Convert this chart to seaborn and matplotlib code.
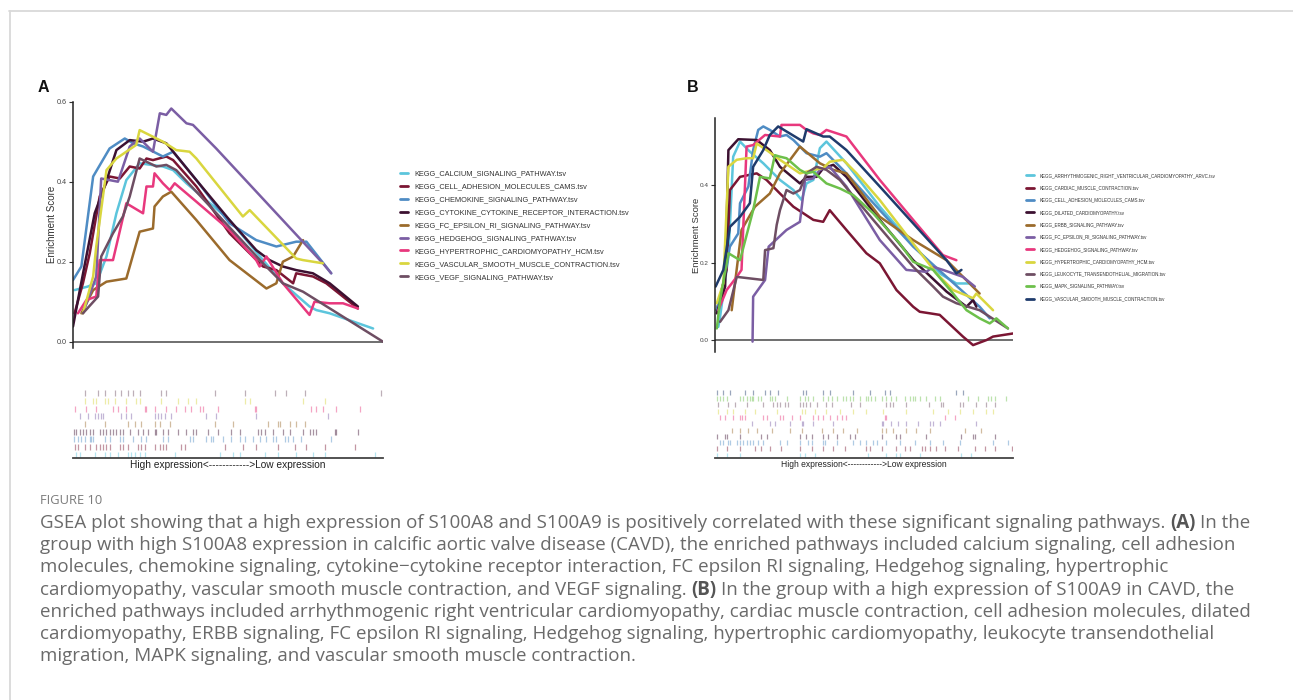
import matplotlib
matplotlib.use("Agg")
import matplotlib.pyplot as plt
from matplotlib.lines import Line2D
import pandas as pd
import seaborn as sns

# ---------------- Panel A data (x = rank position 0-100, y = enrichment score) -------------
A_CALCIUM_X = [0.5, 4.8, 7.5, 10.8, 14.0, 17.2, 21.5, 29.0, 32.3, 36.6, 50.5, 61.3, 67.7, 76.3, 78.5, 82.8, 96.8]
A_CALCIUM_Y = [0.129, 0.138, 0.146, 0.213, 0.321, 0.404, 0.446, 0.438, 0.429, 0.396, 0.304, 0.204, 0.146, 0.088, 0.079, 0.071, 0.033]
A_CELL_X = [0.5, 3.2, 5.4, 8.6, 11.8, 15.1, 18.3, 21.5, 23.7, 25.8, 30.1, 32.3, 39.8, 50.5, 61.3, 65.6, 71.0, 72.0, 77.4, 81.7, 91.9]
A_CELL_Y = [0.071, 0.146, 0.221, 0.363, 0.413, 0.408, 0.438, 0.433, 0.458, 0.454, 0.463, 0.454, 0.388, 0.271, 0.188, 0.179, 0.146, 0.171, 0.163, 0.146, 0.083]
A_CHEMO_X = [0.0, 2.7, 6.5, 11.8, 16.7, 19.4, 22.6, 29.0, 32.3, 39.8, 50.5, 59.1, 65.6, 72.0, 75.3, 83.3]
A_CHEMO_Y = [0.154, 0.188, 0.413, 0.483, 0.508, 0.496, 0.488, 0.463, 0.475, 0.404, 0.296, 0.254, 0.238, 0.250, 0.250, 0.171]
A_CYTO_X = [0.0, 2.2, 4.3, 7.0, 10.2, 14.0, 18.3, 22.6, 25.8, 30.1, 39.8, 50.5, 59.1, 63.4, 67.7, 72.0, 77.4, 82.8, 91.9]
A_CYTO_Y = [0.038, 0.129, 0.213, 0.321, 0.388, 0.479, 0.504, 0.500, 0.508, 0.496, 0.404, 0.304, 0.229, 0.204, 0.188, 0.179, 0.171, 0.146, 0.088]
A_FC_X = [2.7, 6.5, 10.8, 17.2, 21.5, 25.8, 26.3, 29.0, 31.7, 39.8, 50.5, 62.4, 65.6, 67.7, 71.0, 74.2]
A_FC_Y = [0.071, 0.129, 0.150, 0.158, 0.275, 0.283, 0.338, 0.363, 0.375, 0.304, 0.204, 0.133, 0.146, 0.200, 0.213, 0.254]
A_HEDGE_X = [3.2, 7.5, 9.1, 14.5, 18.3, 21.5, 25.8, 28.0, 30.1, 31.7, 36.6, 38.7, 46.2, 80.6, 83.3]
A_HEDGE_Y = [0.071, 0.163, 0.408, 0.400, 0.488, 0.508, 0.475, 0.571, 0.567, 0.583, 0.546, 0.542, 0.483, 0.196, 0.171]
A_HCM_X = [1.6, 4.3, 7.5, 8.6, 12.9, 17.2, 22.6, 23.7, 25.8, 26.3, 29.0, 31.2, 32.8, 39.8, 50.5, 59.1, 60.2, 62.4, 67.7, 76.3, 77.9, 82.8, 87.1, 91.9]
A_HCM_Y = [0.071, 0.104, 0.113, 0.204, 0.204, 0.346, 0.321, 0.388, 0.388, 0.421, 0.396, 0.379, 0.396, 0.350, 0.279, 0.204, 0.188, 0.213, 0.146, 0.067, 0.100, 0.096, 0.096, 0.083]
A_VSMC_X = [3.2, 6.5, 7.5, 10.8, 14.0, 20.4, 21.5, 29.0, 33.3, 37.6, 39.8, 54.8, 57.0, 72.0, 74.2, 80.6]
A_VSMC_Y = [0.071, 0.163, 0.238, 0.429, 0.458, 0.492, 0.529, 0.500, 0.479, 0.475, 0.458, 0.313, 0.329, 0.208, 0.204, 0.196]
A_VEGF_X = [3.2, 8.1, 9.1, 12.9, 16.1, 18.3, 21.5, 26.9, 30.1, 33.3, 61.3, 67.7, 74.2, 100.0]
A_VEGF_Y = [0.071, 0.113, 0.213, 0.271, 0.313, 0.363, 0.458, 0.438, 0.442, 0.429, 0.196, 0.146, 0.125, 0.000]

A_CALCIUM_HITS = [1.1, 2.2, 7.0, 10.2, 11.8, 14.5, 17.7, 18.8, 19.9, 21.5, 23.1, 32.8, 47.3, 51.6, 53.8, 61.8, 66.1, 72.0, 77.4, 81.2, 97.3]
A_CELL_HITS = [0.5, 1.6, 3.8, 5.4, 7.5, 8.6, 9.7, 10.8, 11.8, 15.1, 16.1, 17.7, 21.0, 22.0, 23.1, 26.3, 28.0, 29.0, 30.1, 34.9, 36.0, 48.9, 54.8, 59.1, 66.1, 71.5, 75.3, 81.2, 90.9]
A_CHEMO_HITS = [0.3, 1.6, 2.7, 3.8, 5.4, 5.9, 6.5, 10.2, 11.8, 15.1, 16.1, 19.4, 22.0, 23.7, 29.0, 30.6, 37.6, 38.7, 43.0, 44.6, 45.2, 48.4, 51.1, 53.8, 55.4, 58.1, 60.2, 62.4, 64.5, 65.6, 68.3, 69.4, 71.0, 73.7, 83.3]
A_CYTO_HITS = [0.3, 1.1, 2.2, 3.2, 4.3, 5.4, 6.5, 8.6, 9.7, 10.8, 11.8, 12.9, 14.0, 15.1, 16.1, 18.3, 21.0, 22.6, 24.2, 26.3, 26.9, 29.0, 30.6, 33.9, 36.6, 38.7, 39.8, 43.5, 46.8, 51.1, 53.8, 59.7, 60.8, 61.8, 64.5, 67.7, 69.9, 74.2, 76.3, 77.4, 78.5, 84.4, 84.9, 91.9]
A_FC_HITS = [3.8, 10.2, 17.7, 19.9, 22.0, 26.3, 28.0, 31.2, 45.7, 51.6, 62.9, 66.1, 66.7, 69.9, 72.0, 74.7]
A_HEDGE_HITS = [2.2, 4.8, 7.0, 8.1, 9.1, 9.7, 15.6, 17.2, 18.8, 26.3, 27.4, 28.5, 29.6, 31.7, 43.0, 46.2, 59.1, 82.3]
A_HCM_HITS = [0.5, 4.3, 7.5, 12.9, 14.5, 17.2, 23.1, 23.7, 26.3, 30.1, 33.3, 36.0, 38.2, 40.9, 41.9, 46.8, 58.6, 59.1, 76.9, 78.5, 80.6, 84.9, 92.5]
A_VSMC_HITS = [3.8, 6.5, 7.5, 10.2, 11.3, 13.4, 17.2, 20.4, 21.5, 28.5, 33.9, 37.1, 39.8, 55.4, 57.0, 74.2, 81.2]
A_VEGF_HITS = [3.8, 8.1, 10.2, 13.4, 15.6, 17.7, 19.4, 21.5, 28.5, 30.1, 45.7, 55.4, 65.1, 68.8, 74.7, 99.5]

A_LABELS = ["KEGG_CALCIUM_SIGNALING_PATHWAY.tsv",
            "KEGG_CELL_ADHESION_MOLECULES_CAMS.tsv",
            "KEGG_CHEMOKINE_SIGNALING_PATHWAY.tsv",
            "KEGG_CYTOKINE_CYTOKINE_RECEPTOR_INTERACTION.tsv",
            "KEGG_FC_EPSILON_RI_SIGNALING_PATHWAY.tsv",
            "KEGG_HEDGEHOG_SIGNALING_PATHWAY.tsv",
            "KEGG_HYPERTROPHIC_CARDIOMYOPATHY_HCM.tsv",
            "KEGG_VASCULAR_SMOOTH_MUSCLE_CONTRACTION.tsv",
            "KEGG_VEGF_SIGNALING_PATHWAY.tsv"]

# ---------------- Panel B data ----------------
B_ARVC_X = [1.1, 1.7, 4.5, 6.1, 8.4, 11.7, 16.2, 21.8, 26.3, 29.1, 30.7, 33.0, 35.2, 37.4, 44.1, 55.3, 66.5, 75.4, 81.0, 85.5, 86.6]
B_ARVC_Y = [0.034, 0.060, 0.215, 0.473, 0.512, 0.486, 0.456, 0.413, 0.387, 0.361, 0.404, 0.413, 0.495, 0.512, 0.456, 0.344, 0.245, 0.172, 0.146, 0.146, 0.138]
B_CARDIAC_X = [0.6, 3.9, 5.0, 8.4, 14.0, 17.3, 21.8, 26.3, 33.0, 36.3, 38.5, 40.8, 44.1, 50.8, 55.3, 60.9, 66.5, 68.7, 72.1, 75.4, 83.2, 86.6, 91.1, 93.3, 100.0]
B_CARDIAC_Y = [0.077, 0.181, 0.387, 0.421, 0.430, 0.413, 0.378, 0.344, 0.310, 0.305, 0.335, 0.314, 0.284, 0.224, 0.198, 0.129, 0.086, 0.073, 0.069, 0.065, 0.009, -0.013, 0.000, 0.009, 0.017]
B_CAMS_X = [0.6, 2.8, 5.0, 7.8, 8.4, 11.2, 12.8, 14.5, 16.2, 18.4, 21.8, 24.0, 26.3, 30.7, 35.2, 37.4, 44.1, 55.3, 66.5, 77.7, 88.8, 92.2]
B_CAMS_Y = [0.077, 0.146, 0.241, 0.275, 0.353, 0.396, 0.490, 0.542, 0.551, 0.542, 0.525, 0.529, 0.516, 0.482, 0.473, 0.482, 0.430, 0.335, 0.241, 0.163, 0.086, 0.056]
B_DCM_X = [0.6, 3.4, 4.5, 7.8, 14.0, 18.4, 21.8, 28.5, 30.7, 34.1, 36.3, 39.7, 44.1, 55.3, 66.5, 77.7, 84.4, 86.6, 87.7]
B_DCM_Y = [0.069, 0.138, 0.490, 0.518, 0.516, 0.490, 0.447, 0.404, 0.421, 0.421, 0.443, 0.452, 0.421, 0.310, 0.206, 0.125, 0.086, 0.103, 0.086]
B_ERBB_X = [5.6, 8.9, 13.4, 18.4, 21.8, 28.5, 35.2, 39.7, 44.1, 55.3, 66.5, 77.7, 88.8]
B_ERBB_Y = [0.077, 0.284, 0.344, 0.378, 0.430, 0.499, 0.456, 0.439, 0.430, 0.318, 0.258, 0.206, 0.120]
B_FC_X = [12.6, 12.8, 16.8, 18.0, 24.0, 28.5, 30.2, 33.0, 35.2, 38.5, 44.1, 55.3, 64.2, 70.9, 73.2, 76.5, 83.2, 87.2]
B_FC_Y = [-0.004, 0.112, 0.155, 0.241, 0.284, 0.305, 0.413, 0.417, 0.439, 0.447, 0.396, 0.258, 0.181, 0.176, 0.189, 0.181, 0.163, 0.138]
B_HEDGE_X = [1.1, 3.9, 7.3, 8.9, 10.6, 12.8, 16.8, 21.8, 22.3, 28.5, 30.7, 33.0, 35.2, 37.4, 44.1, 55.3, 66.5, 76.5, 81.0]
B_HEDGE_Y = [0.077, 0.129, 0.163, 0.181, 0.499, 0.503, 0.529, 0.525, 0.555, 0.555, 0.542, 0.533, 0.529, 0.542, 0.525, 0.413, 0.310, 0.219, 0.206]
B_HCM_X = [0.6, 2.8, 4.5, 7.3, 10.6, 12.8, 14.0, 17.3, 21.8, 28.5, 33.0, 36.3, 38.5, 43.0, 47.5, 55.3, 66.5, 74.3, 79.9, 86.6, 87.7, 93.3]
B_HCM_Y = [0.095, 0.146, 0.447, 0.465, 0.469, 0.469, 0.507, 0.490, 0.465, 0.430, 0.439, 0.443, 0.460, 0.465, 0.430, 0.361, 0.249, 0.172, 0.129, 0.108, 0.120, 0.077]
B_LEUK_X = [1.7, 4.5, 7.3, 16.2, 16.8, 19.6, 20.7, 21.8, 24.0, 26.3, 28.5, 30.7, 34.1, 37.4, 41.9, 53.1, 66.5, 73.2, 76.5, 81.0, 88.8, 98.3]
B_LEUK_Y = [0.047, 0.077, 0.163, 0.155, 0.232, 0.237, 0.297, 0.335, 0.387, 0.378, 0.387, 0.430, 0.447, 0.439, 0.413, 0.310, 0.189, 0.138, 0.112, 0.095, 0.077, 0.030]
B_MAPK_X = [0.6, 1.7, 4.5, 8.4, 12.8, 15.1, 18.4, 20.1, 21.8, 24.0, 28.5, 30.7, 33.0, 37.4, 41.9, 46.4, 53.1, 62.0, 66.5, 73.2, 79.9, 84.4, 88.8, 92.2, 94.4, 98.3]
B_MAPK_Y = [0.030, 0.103, 0.224, 0.206, 0.335, 0.421, 0.417, 0.477, 0.473, 0.469, 0.439, 0.430, 0.434, 0.404, 0.391, 0.374, 0.327, 0.249, 0.202, 0.181, 0.120, 0.077, 0.056, 0.043, 0.056, 0.030]
B_VSMC_X = [0.2, 2.8, 5.0, 8.4, 11.7, 12.8, 16.2, 18.4, 21.2, 29.6, 30.7, 36.3, 38.5, 44.1, 55.3, 66.5, 77.7, 81.0, 82.7]
B_VSMC_Y = [0.138, 0.181, 0.292, 0.318, 0.353, 0.447, 0.490, 0.529, 0.551, 0.512, 0.544, 0.525, 0.525, 0.490, 0.396, 0.301, 0.206, 0.172, 0.181]

B_ARVC_HITS = [0.6, 3.9, 8.4, 28.5, 30.2, 33.5, 51.4, 57.5, 60.9, 62.0, 68.7, 82.7, 86.0]
B_CARDIAC_HITS = [0.6, 3.9, 8.4, 13.4, 15.6, 18.4, 22.3, 28.5, 32.4, 36.3, 39.7, 43.6, 50.8, 52.0, 55.9, 60.9, 63.7, 65.4, 69.3, 70.4, 72.1, 74.3, 77.1, 81.6, 87.2, 90.5, 93.9, 99.7]
B_CAMS_HITS = [1.7, 2.8, 4.5, 5.0, 7.3, 8.4, 9.5, 10.6, 11.7, 12.8, 14.5, 16.2, 21.8, 24.0, 28.5, 31.3, 32.4, 36.3, 36.9, 40.8, 46.4, 48.6, 50.8, 53.1, 54.2, 57.5, 62.0, 67.0, 72.1, 76.5, 82.1, 93.3, 98.3]
B_DCM_HITS = [0.6, 3.4, 3.9, 8.4, 15.6, 17.3, 28.5, 30.7, 32.4, 36.3, 38.0, 40.8, 45.3, 46.9, 55.9, 60.9, 62.0, 70.9, 82.7, 86.6, 87.2, 93.9]
B_ERBB_HITS = [5.6, 8.4, 11.2, 14.0, 19.0, 25.1, 29.1, 35.8, 39.7, 43.0, 47.5, 55.9, 57.5, 59.8, 64.2, 67.6, 72.1, 83.8, 89.4]
B_FC_HITS = [12.3, 18.4, 20.1, 25.1, 29.1, 29.6, 33.0, 39.7, 55.9, 56.4, 59.2, 61.5, 64.2, 68.2, 72.1, 73.2, 75.4, 87.7]
B_HEDGE_HITS = [1.7, 3.4, 6.1, 8.4, 8.9, 10.1, 16.2, 17.3, 21.8, 22.9, 25.7, 28.5, 33.0, 34.6, 36.3, 38.5, 40.8, 42.5, 44.1, 57.0, 57.5, 77.1, 80.4]
B_HCM_HITS = [1.1, 3.9, 6.1, 10.1, 13.4, 20.7, 29.1, 30.2, 33.5, 37.4, 41.9, 46.4, 50.8, 56.4, 64.2, 73.2, 78.2, 82.1, 86.6, 91.1, 93.3]
B_LEUK_HITS = [1.1, 4.5, 6.7, 10.6, 16.2, 19.6, 20.7, 21.8, 23.5, 24.6, 28.5, 29.6, 30.7, 31.8, 34.1, 37.4, 39.1, 45.8, 48.6, 57.5, 58.7, 59.8, 64.2, 71.9, 75.8, 76.4, 82.1, 83.2, 87.7, 91.1, 93.9]
B_MAPK_HITS = [0.6, 1.7, 2.8, 3.9, 8.4, 9.5, 10.6, 11.7, 12.3, 12.8, 14.5, 15.6, 18.4, 19.0, 20.1, 24.0, 28.5, 30.2, 31.3, 33.0, 36.3, 38.0, 39.1, 40.8, 43.0, 44.1, 45.3, 46.4, 48.6, 50.8, 51.4, 52.5, 53.6, 55.9, 57.5, 59.2, 60.9, 63.7, 65.4, 66.5, 67.0, 68.7, 70.9, 73.7, 75.4, 84.9, 88.3, 91.6, 92.7, 93.9, 97.8]
B_VSMC_HITS = [0.6, 2.8, 5.0, 10.1, 12.8, 16.8, 18.4, 21.2, 29.6, 30.7, 36.3, 38.5, 46.4, 52.0, 57.0, 58.7, 81.0, 83.2]

B_LABELS = ["KEGG_ARRHYTHMOGENIC_RIGHT_VENTRICULAR_CARDIOMYOPATHY_ARVC.tsv",
            "KEGG_CARDIAC_MUSCLE_CONTRACTION.tsv",
            "KEGG_CELL_ADHESION_MOLECULES_CAMS.tsv",
            "KEGG_DILATED_CARDIOMYOPATHY.tsv",
            "KEGG_ERBB_SIGNALING_PATHWAY.tsv",
            "KEGG_FC_EPSILON_RI_SIGNALING_PATHWAY.tsv",
            "KEGG_HEDGEHOG_SIGNALING_PATHWAY.tsv",
            "KEGG_HYPERTROPHIC_CARDIOMYOPATHY_HCM.tsv",
            "KEGG_LEUKOCYTE_TRANSENDOTHELIAL_MIGRATION.tsv",
            "KEGG_MAPK_SIGNALING_PATHWAY.tsv",
            "KEGG_VASCULAR_SMOOTH_MUSCLE_CONTRACTION.tsv"]

A_TICKS = [0.0, 0.2, 0.4, 0.6]
B_TICKS = [0.0, 0.2, 0.4]
XLABEL = "High expression<------------>Low expression"

CAPTION_TITLE = "FIGURE 10"
CAPTION_LINES = [
    [("GSEA plot showing that a high expression of S100A8 and S100A9 is positively correlated with these significant signaling pathways.", False), ("(A)", True), ("In the", False)],
    [("group with high S100A8 expression in calcific aortic valve disease (CAVD), the enriched pathways included calcium signaling, cell adhesion", False)],
    [("molecules, chemokine signaling, cytokine\u2212cytokine receptor interaction, FC epsilon RI signaling, Hedgehog signaling, hypertrophic", False)],
    [("cardiomyopathy, vascular smooth muscle contraction, and VEGF signaling.", False), ("(B)", True), ("In the group with a high expression of S100A9 in CAVD, the", False)],
    [("enriched pathways included arrhythmogenic right ventricular cardiomyopathy, cardiac muscle contraction, cell adhesion molecules, dilated", False)],
    [("cardiomyopathy, ERBB signaling, FC epsilon RI signaling, Hedgehog signaling, hypertrophic cardiomyopathy, leukocyte transendothelial", False)],
    [("migration, MAPK signaling, and vascular smooth muscle contraction.", False)],
]

# ---------------- styles ----------------
CYAN, DRED, SBLUE, DPURP = "#5cc5dc", "#7b1633", "#4f8cc4", "#3c1131"
BROWN, PURP, PINK, YELL = "#9b6b2c", "#7b5ea4", "#e8387d", "#d9d63f"
MAUVE, GREEN, NAVY = "#6e4e63", "#6dc04b", "#1f3b6c"
A_PALETTE = [CYAN, DRED, SBLUE, DPURP, BROWN, PURP, PINK, YELL, MAUVE]
B_PALETTE = [CYAN, DRED, SBLUE, DPURP, BROWN, PURP, PINK, YELL, MAUVE, GREEN, NAVY]

A_SERIES = [(A_CALCIUM_X, A_CALCIUM_Y, A_CALCIUM_HITS), (A_CELL_X, A_CELL_Y, A_CELL_HITS),
            (A_CHEMO_X, A_CHEMO_Y, A_CHEMO_HITS), (A_CYTO_X, A_CYTO_Y, A_CYTO_HITS),
            (A_FC_X, A_FC_Y, A_FC_HITS), (A_HEDGE_X, A_HEDGE_Y, A_HEDGE_HITS),
            (A_HCM_X, A_HCM_Y, A_HCM_HITS), (A_VSMC_X, A_VSMC_Y, A_VSMC_HITS),
            (A_VEGF_X, A_VEGF_Y, A_VEGF_HITS)]
B_SERIES = [(B_ARVC_X, B_ARVC_Y, B_ARVC_HITS), (B_CARDIAC_X, B_CARDIAC_Y, B_CARDIAC_HITS),
            (B_CAMS_X, B_CAMS_Y, B_CAMS_HITS), (B_DCM_X, B_DCM_Y, B_DCM_HITS),
            (B_ERBB_X, B_ERBB_Y, B_ERBB_HITS), (B_FC_X, B_FC_Y, B_FC_HITS),
            (B_HEDGE_X, B_HEDGE_Y, B_HEDGE_HITS), (B_HCM_X, B_HCM_Y, B_HCM_HITS),
            (B_LEUK_X, B_LEUK_Y, B_LEUK_HITS), (B_MAPK_X, B_MAPK_Y, B_MAPK_HITS),
            (B_VSMC_X, B_VSMC_Y, B_VSMC_HITS)]


def frames(labels, series):
    rows_l, rows_r = [], []
    for i, (lab, (xs, ys, hits)) in enumerate(zip(labels, series)):
        for x, y in zip(xs, ys):
            rows_l.append({"pathway": lab, "rank": x, "es": y})
        for h in hits:
            rows_r.append({"pathway": lab, "rank": h, "row": i})
    return pd.DataFrame(rows_l), pd.DataFrame(rows_r)


sns.set_theme(style="white")
plt.rcParams["font.family"] = ["Liberation Sans", "DejaVu Sans"]
SANS = ["Liberation Sans", "DejaVu Sans"]

W, H = 1293, 700
fig = plt.figure(figsize=(W / 100, H / 100), dpi=100)
fig.patch.set_facecolor("white")


def fx(px):
    return px / W


def fy(py):
    return 1 - py / H


def panel(labels, series, palette, x0, x1, ytop, ybot, ylim, ticks, rug_s,
          leg_x, leg_y, leg_fs, leg_ls, lab_fs, lab_pad, tick_fs, xlab_fs):
    df, rug = frames(labels, series)
    ax = fig.add_axes([fx(x0), fy(ybot), fx(x1 - x0), (ybot - ytop) / H])
    sns.lineplot(data=df, x="rank", y="es", hue="pathway", hue_order=labels,
                 palette=palette, sort=False, estimator=None, lw=1.8,
                 legend=False, ax=ax)
    ax.axhline(0, color="#6f6f6f", lw=1.4, zorder=0.5)
    ax.set_xlim(0, 100)
    ax.set_ylim(*ylim)
    ax.set_xticks([])
    ax.set_yticks(ticks)
    ax.set_yticklabels([f"{t:.1f}" for t in ticks])
    ax.tick_params(axis="y", left=True, length=3, width=0.8, color="#333333",
                   labelcolor="#444444", labelsize=tick_fs, pad=1.5)
    for s in ["top", "right", "bottom"]:
        ax.spines[s].set_visible(False)
    ax.spines["left"].set_color("#222222")
    ax.spines["left"].set_linewidth(1.1)
    ax.set_xlabel("")
    ax.set_ylabel("Enrichment Score", fontsize=lab_fs, color="#333333",
                  labelpad=lab_pad)
    ax.patch.set_alpha(0)

    handles = [Line2D([0], [0], color=c, lw=2.0) for c in palette]
    leg = fig.legend(handles, labels, loc="upper left",
                     bbox_to_anchor=(fx(leg_x), fy(leg_y)), frameon=False,
                     prop={"family": SANS, "size": leg_fs},
                     handlelength=1.15 * 5.0 / leg_fs, handletextpad=0.85 * 5.0 / leg_fs,
                     labelspacing=leg_ls, borderpad=0, borderaxespad=0)
    for t in leg.get_texts():
        t.set_color("#333333")

    n = len(labels)
    rax = fig.add_axes([fx(x0), fy(458), fx(x1 - x0), 69 / H])
    sns.scatterplot(data=rug, x="rank", y="row", hue="pathway", hue_order=labels,
                    palette=palette, marker="|", s=rug_s, linewidth=0.9,
                    alpha=0.45, legend=False, ax=rax)
    rax.set_xlim(0, 100)
    rax.set_ylim(-0.45, n - 0.45)
    rax.set_xticks([])
    rax.set_yticks([])
    rax.set_ylabel("")
    for s in ["top", "right", "left"]:
        rax.spines[s].set_visible(False)
    rax.spines["bottom"].set_color("#444444")
    rax.spines["bottom"].set_linewidth(1.3)
    rax.set_xlabel(XLABEL, fontsize=xlab_fs, color="#222222", labelpad=1.2)
    rax.patch.set_alpha(0)
    return ax


panel(A_LABELS, A_SERIES, A_PALETTE, 73, 383, 101.7, 347.7, (-0.015, 0.6), A_TICKS,
      19, 400, 170.5, 5.3, 0.78, 7.0, -0.6, 5.2, 7.3)
panel(B_LABELS, B_SERIES, B_PALETTE, 715, 1013, 118.3, 351.7, (-0.03, 0.572), B_TICKS,
      13, 1026, 173, 3.25, 1.62, 6.8, -1.2, 4.6, 6.15)

# panel letters
fig.text(fx(38), fy(87), "A", fontsize=11.5, weight="bold", color="#111111", va="center")
fig.text(fx(687), fy(87), "B", fontsize=11.5, weight="bold", color="#111111", va="center")

# page frame
fig.add_artist(Line2D([fx(9), 1], [fy(10.5), fy(10.5)], transform=fig.transFigure,
                      color="#d9d9d9", lw=1.3))
fig.add_artist(Line2D([fx(9.5), fx(9.5)], [fy(10.5), 0], transform=fig.transFigure,
                      color="#d9d9d9", lw=1.3))

# caption
renderer = fig.canvas.get_renderer()
CAP_FAMILY = ["Open Sans", "DejaVu Sans"]
CAP_COLOR = "#6a6a6a"
fig.text(fx(40), fy(500), CAPTION_TITLE, fontsize=9.3, family=CAP_FAMILY, color="#7a7a7a",
         va="center")


def width_of(txt, size, bold):
    t = fig.text(0, 0, txt, fontsize=size, family=CAP_FAMILY,
                 weight="bold" if bold else "normal")
    w = t.get_window_extent(renderer=renderer).width
    t.remove()
    return w


def line_width(segs, size):
    sp = width_of("n n", size, False) - width_of("nn", size, False)
    return sum(width_of(s, size, b) for s, b in segs) + sp * (len(segs) - 1)


base = 12.0
cap_size = base * 1210 / line_width(CAPTION_LINES[0], base)
space_w = width_of("n n", cap_size, False) - width_of("nn", cap_size, False)
for i, segs in enumerate(CAPTION_LINES):
    x = 40.0
    ypx = 523 + 22.2 * i
    for s, b in segs:
        t = fig.text(fx(x), fy(ypx), s, fontsize=cap_size, family=CAP_FAMILY,
                     weight="bold" if b else "normal",
                     color="#555555" if b else CAP_COLOR, va="center", ha="left")
        x += t.get_window_extent(renderer=renderer).width + space_w

fig.savefig("out.png", dpi=100, facecolor="white")
